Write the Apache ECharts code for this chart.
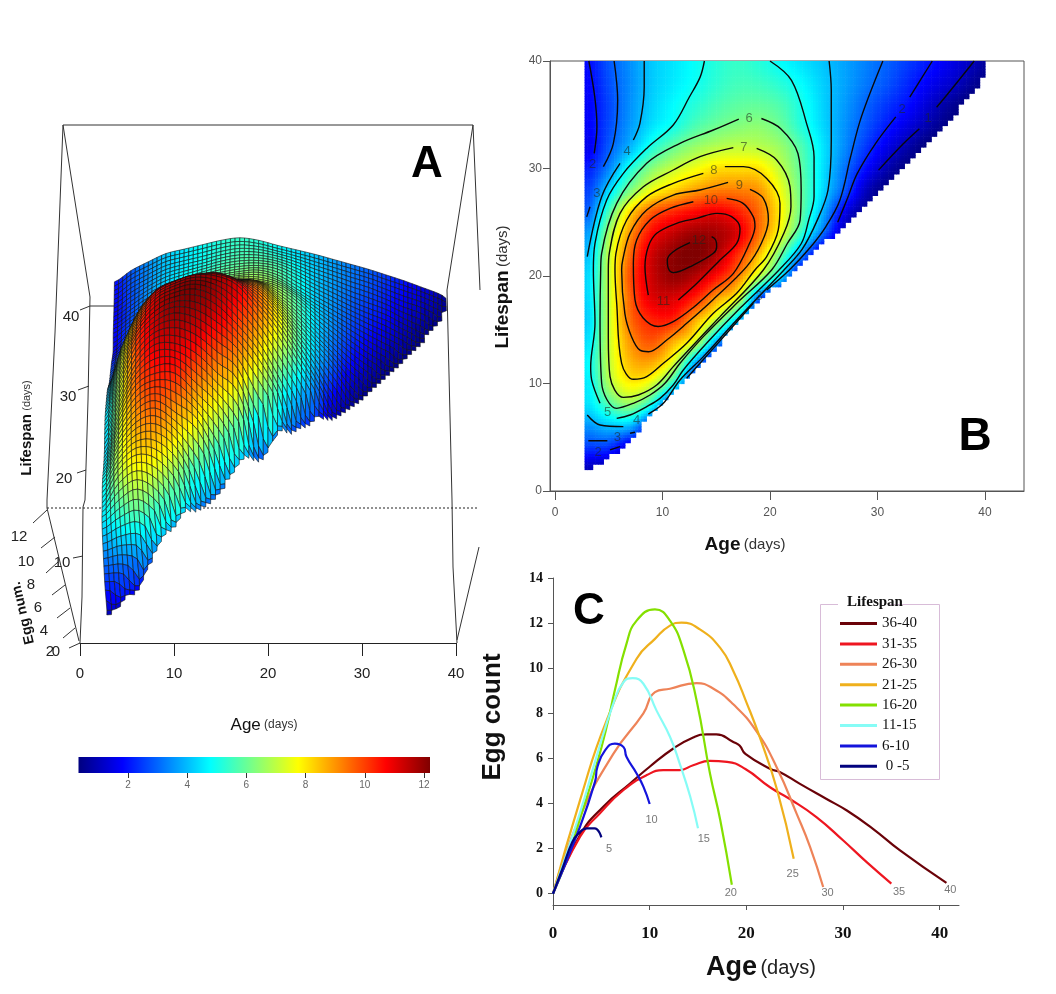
<!DOCTYPE html>
<html>
<head>
<meta charset="utf-8">
<style>html,body{margin:0;padding:0;background:#fff}#c{width:1056px;height:994px}</style>
<script src="https://cdn.jsdelivr.net/npm/echarts@6/dist/echarts.min.js"></script>
</head>
<body>
<div id="c"></div>
<script>
// ---- Panel A / B: egg count at nodes, ages 3,5,7,... per lifespan row
const nodeAges = [3,5,7,9,11,13,15,17,19,21,23,25,27,29,31,33,35,37,39,41];
const L40 = [1.9,2.8,3.5,4.15,4.5,4.85,5.2,5.4,5.2,4.8,4.45,4.1,3.7,3.3,2.9,2.45,2.0,1.5,1.0,0.4];
const L38 = [1.8,2.7,3.45,4.15,4.55,4.9,5.3,5.55,5.5,5.2,4.75,4.2,3.7,3.2,2.75,2.2,1.65,1.2,0.6,0.2];
const L36 = [1.75,2.6,3.5,4.25,4.75,5.2,5.6,5.85,5.9,5.65,5.0,4.25,3.6,2.95,2.4,1.9,1.2,0.6,0.2];
const L34 = [1.75,2.65,3.6,4.45,5.0,5.65,6.05,6.3,6.4,6.0,5.15,4.3,3.5,2.75,2.05,1.4,0.75,0.3];
const L32 = [1.6,2.85,3.95,5.15,6.0,6.55,6.9,7.05,6.95,6.55,5.65,4.45,3.4,2.4,1.5,0.75,0.2];
const L30 = [2.1,3.35,5.1,6.35,7.1,7.6,8.1,8.15,8.05,7.0,5.8,4.4,3.1,1.85,0.85,0.3];
const L28 = [2.5,4.35,6.25,7.6,8.3,8.9,9.25,9.25,8.95,7.55,5.9,4.3,2.75,1.05,0.3];
const L26 = [2.9,5.6,8.15,9.65,10.25,10.65,10.9,10.4,9.45,7.85,5.85,3.8,1.6,0.5];
const L24 = [3.6,6.6,9.0,10.65,11.4,11.85,11.75,11.1,9.4,7.5,5.25,3.0,0.9,0.2];
const L22 = [4.0,7.0,9.55,11.25,12.0,12.25,11.65,10.2,8.45,6.0,3.35,1.0];
const L20 = [4.3,7.05,9.85,11.3,11.95,11.6,10.6,9.3,7.0,4.5,1.2];
const L18 = [4.3,7.05,9.6,11.05,11.15,10.4,8.9,7.45,3.0,1.0];
const L16 = [4.2,7.05,9.45,10.35,10.35,8.8,7.1,4.3,1.5];
const L14 = [4.4,7.05,9.0,9.75,8.75,7.4,4.0,1.5];
const L12 = [4.7,7.0,8.55,8.75,7.35,4.0,1.5];
const L10 = [4.55,6.7,7.85,7.3,5.1,2.0];
const L8  = [4.4,5.6,6.35,4.9,2.0];
const L6  = [3.5,4.0,3.85,2.0];
const L4  = [2.4,2.3,1.2];
const L2  = [1.0,0.7];
const nodeLifespans = [2,4,6,8,10,12,14,16,18,20,22,24,26,28,30,32,34,36,38,40];
const rows = [L2,L4,L6,L8,L10,L12,L14,L16,L18,L20,L22,L24,L26,L28,L30,L32,L34,L36,L38,L40];
// edge of the sampled domain (age, lifespan)
const edgeAge  = [2.9,6.36,8.5,11.6,14.7,17.8,22.2,26.5,30.1,33,36.3,39.4,40.2];
const edgeLife = [1.8,4.1,6.6,10,13.1,16.5,20.56,24.4,28,31,34.2,37.6,40];

// ---- Panel B: contour segments (age, lifespan), gaps are where the labels sit
const c12 = [[14.57,23.66],[14.95,23.35],[15.04,22.73],[14.73,22.11],[12.87,21.02],[11,20.31],[10.54,20.71],[10.45,21.49],[11,22.26],[12.56,23.1]];
const c11 = [[8.68,18.23],[8.37,20.87],[8.68,22.73],[9.46,23.97],[11.32,24.9],[13.18,25.36],[15.04,25.83],[16.43,25.52],[17.21,24.43],[16.9,23.04],[15.35,21.49],[13.18,19.3],[11.47,17.77]];
const c10 = [[15.97,27.22],[17.5,26.76],[18.45,25.5],[18.6,24.6],[18.1,23.04],[16.6,20.25],[14.7,18.7],[12.9,17.1],[11,15.75],[9.6,15.3],[8.2,16.1],[7.44,17.8],[7.29,21.18],[7.6,23.35],[8.84,25.21],[10.7,26.29],[12.87,26.91]];
const c9  = [[18.14,28.06],[19.38,27.22],[19.85,25.21],[19.2,23.04],[17.83,20.87],[14.7,17.8],[12.25,15.6],[10.4,14.05],[8.7,12.96],[7.9,13.1],[7.1,14.4],[6.5,16.5],[6.2,20.56],[6.3,21.49],[6.98,23.97],[8.53,26.14],[11,27.53],[13.5,28],[16.1,28.71]];
const c8  = [[15.8,30.17],[17.52,30.17],[19.69,29.08],[20.93,26.76],[20.77,24.28],[19.69,21.8],[18.6,20.56],[16.9,18.39],[14.73,16.53],[12.25,13.74],[10.08,11.88],[8.53,10.64],[7.3,10.39],[6.2,11.88],[5.74,17.46],[5.58,20.56],[5.67,22.11],[6.67,25.21],[8.53,27.38],[11,28.62],[13.8,29.55]];
const c7  = [[18.76,31.87],[20.62,30.79],[21.86,28.31],[21.95,26.45],[21.3,24],[19.38,20.56],[15.35,16.22],[12.87,13.58],[11,11.57],[9.46,9.86],[7.75,8.93],[6.36,8.71],[5.12,10.64],[4.96,14.36],[4.96,20.56],[5.05,22.11],[6.05,25.83],[8.22,28.3],[11,29.86],[13.49,31.1],[16.59,31.94]];
const c6  = [[19.2,34.65],[21,33.7],[22.6,31.4],[22.9,28],[22.8,25.2],[21.6,23],[20.15,20.56],[16.9,17.46],[13.8,14.36],[11.63,11.88],[10.23,10.02],[8.84,8.93],[7.29,8.16],[5.74,7.69],[4.34,10.02],[4.19,15.9],[4.25,20.56],[4.34,22.11],[5.74,26.76],[8.53,30.48],[11.63,32.34],[14.73,33.58],[17.1,34.6]];
const c5a = [[13.9,40],[13.5,38.5],[12.5,36.65],[11,34.05],[8.53,31.87],[6.36,29.55],[4.81,27.07],[3.72,23.04],[3.57,20.56],[3.72,15.6],[3.32,11.57],[3.41,10.33],[4.19,8.16]];
const c5b = [[5.74,6.76],[6.98,7.07],[8.53,7.85],[9.77,8.62],[11,9.86],[11.94,11.26],[14.1,13.74],[17.2,16.99],[20.84,20.56],[22.9,23],[23.6,25.2],[24.1,27.4],[24.1,31.1],[23.4,34.2],[22,38.2],[20,40]];
const c4a = [[8.3,40],[8.3,37.6],[7.9,34.2],[7.29,32.65]];
const c4b = [[6.05,30.48],[4.34,27.38],[3,21.8]];
const c4c = [[3,7.07],[4.19,6.14],[6.36,5.99]];
const c4d = [[8.68,7.16],[10.08,8.16],[11.63,10.33],[13.8,12.5],[16.9,15.91],[21.3,20.56],[23,22.5],[24.4,25.2],[25.4,28],[25.7,32.6],[25.7,37.3],[25.5,40]];
const c3a = [[5.5,40],[5.83,36.35],[5.43,32.34],[4.5,30.17]];
const c3b = [[3.26,26.45],[2.95,25.5]];
const c3c = [[3.1,4.68],[4.87,4.68]];
const c3d = [[6.98,5.37],[7.44,5.46]];
const c3e = [[12.25,10.48],[14.73,13.27],[18.45,17.46]];
const c3f = [[19.69,18.7],[21.8,20.56],[23.7,22.6],[25.2,24.6],[26.5,27.05],[27.5,31.1],[28.5,34.8],[30.5,40]];
const c2a = [[3.15,40],[3.7,36.65],[3.9,33.9],[3.65,31.4]];
const c2b = [[5.12,3.82],[6.05,4.13]];
const c2c = [[35.1,40],[33,36.65]];
const c2d = [[31.7,34.8],[29.8,32.3],[28.1,29.5],[27.2,27.2],[26.3,25]];
const c1a = [[39,40],[36.3,36.65],[35.5,35.7]];
const c1b = [[33.9,33.7],[32.4,32.3],[30.1,29.85]];
const contourSegments = [c12,c11,c10,c9,c8,c7,c6,c5a,c5b,c4a,c4b,c4c,c4d,c3a,c3b,c3c,c3d,c3e,c3f,c2a,c2b,c2c,c2d,c1a,c1b];
const contourLabels = [[18.05,34.65,'6'],[17.58,31.94,'7'],[14.79,29.86,'8'],[17.15,28.4,'9'],[14.5,27.05,'10'],[10.1,17.6,'11'],[13.4,23.3,'12'],
  [32.3,35.5,'2'],[34.7,34.65,'1'],[3.5,30.4,'2'],[3.9,27.7,'3'],[6.7,31.6,'4'],[4.9,7.3,'5'],[7.6,6.6,'4'],[5.8,5.0,'3'],[4,3.6,'2'],[19,18.1,'3']];

// ---- Panel C: egg count by age per lifespan class
const s36_40 = [[0,0],[2.8,2.6],[5.2,3.86],[8,4.9],[10,5.63],[12.45,6.44],[14.5,6.93],[15.9,7.07],[16.9,7.07],[18.65,6.73],[19.3,6.57],[19.9,6.2],[22.5,5.53],[23.5,5.39],[25.55,4.87],[28.3,4.2],[30.4,3.69],[33.1,2.88],[35.9,1.92],[40.7,0.48]];
const s31_35 = [[0,0],[2.8,2.53],[4.86,3.57],[7.3,4.6],[9.7,5.26],[11.4,5.48],[13.1,5.48],[14.5,5.7],[16.24,5.89],[18,5.85],[19.9,5.53],[22.45,4.72],[24.5,4.2],[27.25,3.4],[30,2.37],[32.45,1.4],[35,0.45]];
const s26_30 = [[0,0],[2.8,3.42],[6.24,6.2],[9.35,8],[10.55,8.94],[12.1,9.09],[14.85,9.34],[16.6,9.09],[18.65,8.4],[21,7.23],[23.15,5.6],[25.2,3.55],[26.6,2.07],[27.95,0.3]];
const s21_25 = [[0,0],[2.8,4.15],[5.55,7.69],[8.65,10.42],[10.55,11.3],[12.1,11.89],[13.3,12.02],[15.2,11.72],[17.3,10.9],[18.65,9.88],[20,8.5],[21.4,6.93],[23.2,4.58],[24.9,1.55]];
const s16_20 = [[0,0],[1.5,1.6],[3,3.6],[4.5,5.7],[5.55,7.4],[6.4,9.02],[7.6,11.08],[8.65,12.11],[10.55,12.61],[12.1,12.11],[13.5,10.79],[14.85,8.58],[16.24,5.33],[17.3,3.27],[18.5,0.4]];
const s11_15 = [[0,0],[2.8,3.6],[4.5,6.07],[6.24,8.43],[7.3,9.39],[8.24,9.56],[9.35,9.31],[10.7,8.13],[12.1,6.96],[13.1,5.78],[14.2,4.3],[15,2.9]];
const s6_10  = [[0,0],[2.8,2.98],[4.35,4.97],[4.6,5.63],[5.4,6.37],[6.4,6.66],[7.3,6.5],[7.6,6.07],[8.65,5.33],[9.35,4.75],[10,3.98]];
const s0_5   = [[0,0],[1,1.15],[2,2.3],[2.6,2.65],[3.5,2.9],[4.3,2.9],[5,2.5]];
const classNames  = ['36-40','31-35','26-30','21-25','16-20','11-15','6-10',' 0 -5'];
const classData   = [s36_40,s31_35,s26_30,s21_25,s16_20,s11_15,s6_10,s0_5];
const classColors = ['#6a0208','#ee1620','#ee8358','#efb01c','#84e000','#86fcf6','#1414dc','#02027e'];
const endLabels = [[5.8,1.97,'5'],[10.2,3.29,'10'],[15.6,2.45,'15'],[18.4,0.02,'20'],[24.8,0.86,'25'],[28.4,0.02,'30'],[35.8,0.07,'35'],[41.1,0.15,'40']];

// ---- Colour scale
const scaleMin = 0.33, scaleMax = 12.2;
const scaleTicks = [2,4,6,8,10,12];

function clamp01(v){return Math.max(0,Math.min(1,v));}
function jet(v){
  const t = clamp01((v-scaleMin)/(scaleMax-scaleMin));
  const r = clamp01(1.5-Math.abs(4*t-3)), g = clamp01(1.5-Math.abs(4*t-2)), b = clamp01(1.5-Math.abs(4*t-1));
  return 'rgb('+Math.round(r*255)+','+Math.round(g*255)+','+Math.round(b*255)+')';
}
function nodeZ(i,j){
  i = Math.max(0,Math.min(rows.length-1,i));
  const r = rows[i];
  return r[Math.max(0,Math.min(r.length-1,j))];
}
function cr(p0,p1,p2,p3,t){
  return 0.5*(2*p1+(p2-p0)*t+(2*p0-5*p1+4*p2-p3)*t*t+(3*p1-p0-3*p2+p3)*t*t*t);
}
// shading between the read nodes of a cell (surface look only; the series data stay the read nodes)
function shade(a,L){
  const fa = Math.max(0,(a-3)/2), fl = Math.max(0,(L-2)/2);
  const j = Math.floor(fa), i = Math.floor(fl), tj = fa-j, ti = fl-i;
  const col = [];
  for(let k=-1;k<=2;k++){
    col.push(cr(nodeZ(i+k,j-1),nodeZ(i+k,j),nodeZ(i+k,j+1),nodeZ(i+k,j+2),tj));
  }
  return Math.max(0.2,cr(col[0],col[1],col[2],col[3],ti));
}
function edgeLifeAt(a){
  if(a<=edgeAge[0]) return edgeLife[0];
  for(let k=1;k<edgeAge.length;k++){
    if(a<=edgeAge[k]){
      const t=(a-edgeAge[k-1])/(edgeAge[k]-edgeAge[k-1]);
      return edgeLife[k-1]+t*(edgeLife[k]-edgeLife[k-1]);
    }
  }
  return 99;
}
function inDomain(a,L){
  const sa = Math.floor(a*2)/2+0.25, sl = Math.floor(L*2)/2+0.25;
  return a>=2.75 && sl>=edgeLifeAt(sa) && sa<=40.25 && L<=40;
}
// Panel A view: maps (age, lifespan, eggs) onto the hidden plane of its grid
function zUnit(L){ return L<24 ? 11+3*L/24 : 14-1.4*(L-24)/16; }
function project(a,L,z){
  const s = 1-0.06*L/40;
  return [20+(a-20)*s*(1+0.0117*z), 8.43*L+z*zUnit(L)];
}
// mesh height: the last row of quads lies level with the lip so the sawtooth stays shallow
function meshHeight(a,L){
  const el = edgeLifeAt(Math.min(a,40.2));
  const z = shade(a,L), e = L-el;
  if(e>=1.4) return z;
  const z0 = shade(a,Math.max(el,2));
  const w = clamp01((e-0.5)/0.9);
  return z0+(z-z0)*w*w*(3-2*w);
}

const nodeData = [];
for(let i=rows.length-1;i>=0;i--){
  rows[i].forEach(function(z,j){ nodeData.push([nodeAges[j],nodeLifespans[i],z]); });
}

function renderHeatCell(params,api){
  const a0=api.value(0), L0=api.value(1);
  if(L0>=40) return null;
  const ch=[], d=0.25;
  const aStart = a0===3?2.75:a0;
  const LStart = L0===2?1.5:L0;
  for(let a=aStart;a<a0+2-1e-6;a+=d){
    for(let L=LStart;L<L0+2-1e-6;L+=d){
      if(!inDomain(a+d/2,L+d/2)) continue;
      const p=api.coord([a,L+d]), q=api.coord([a+d,L]);
      const fill=jet(shade(a+d/2,L+d/2));
      ch.push({type:'rect',silent:true,shape:{x:p[0],y:p[1],width:q[0]-p[0]+0.6,height:q[1]-p[1]+0.6},style:{fill:fill}});
    }
  }
  return {type:'group',children:ch};
}
function renderMeshCell(params,api){
  const a0=api.value(0), L0=api.value(1);
  if(L0>=40) return null;
  const ch=[], d=0.5;
  const LStart = L0===2?1.5:L0;
  for(let L=L0+2-d;L>=LStart-1e-6;L-=d){
    for(let a=a0;a<a0+2-1e-6;a+=d){
      if(!inDomain(a+d/2,L+d/2)) continue;
      const mid=shade(a+d/2,L+d/2);
      const corners=[[a,L],[a+d,L],[a+d,L+d],[a,L+d]];
      const pts=corners.map(function(c){
        return api.coord(project(c[0],c[1],meshHeight(c[0],c[1])));
      });
      ch.push({type:'polygon',silent:true,shape:{points:pts},
        style:{fill:jet(mid),stroke:'#101010',lineWidth:0.6}});
    }
  }
  return {type:'group',children:ch};
}

const SANS='"Liberation Sans",Arial,sans-serif', SERIF='"Liberation Serif","Times New Roman",serif';
function px(points,extra){
  return Object.assign({type:'polyline',silent:true,shape:{points:points},style:{fill:null,stroke:'#333',lineWidth:1}},extra||{});
}
function txt(x,y,t,font,color,extra){
  return Object.assign({type:'text',silent:true,x:x,y:y,style:{text:t,font:font,fill:color||'#222',align:'center',verticalAlign:'middle'}},extra||{});
}
const frameLines = [
  [[63,125],[473,125]],
  [[63,125],[90,297],[88,400],[85,500],[83,507],[82,597],[80,643]],
  [[63,125],[55,333],[47,500],[47,508],[79,641]],
  [[473,125],[447,290],[452,500],[453,567],[457,643]],
  [[473,125],[480,290]],
  [[479,547],[457,640]],
  [[90,306],[115,306]],
  [[80,310],[90,306]],[[78,390],[89,386]],[[77,473],[86,470]],[[73,558],[83,556]],
  [[33,523],[47,510]],[[41,548],[55,537]],[[46,573],[58,562]],[[52,595],[65,585]],[[57,618],[70,608]],[[63,638],[75,628]],[[69,648],[80,643]]
];
const graphics = frameLines.map(function(p){return px(p);});
graphics.push(px([[47,508],[479,508]],{style:{fill:null,stroke:'#222',lineWidth:1,lineDash:[2,2]}}));
[[71,317,'40'],[68,397,'30'],[64,479,'20'],[62,563,'10'],[19,537,'12'],[26,562,'10'],[31,585,'8'],[38,608,'6'],[44,631,'4'],[50,652,'2'],[56,652,'0']]
  .forEach(function(t){graphics.push(txt(t[0],t[1],t[2],'15px '+SANS,'#222'));});
graphics.push(txt(23,613,'Egg num.','bold 14px '+SANS,'#111',{rotation:1.8}));
graphics.push({type:'text',silent:true,x:27,y:428,rotation:Math.PI/2,style:{text:'{a|Lifespan} {b|(days)}',align:'center',verticalAlign:'middle',rich:{a:{font:'bold 15px '+SANS,fill:'#111'},b:{font:'11px '+SANS,fill:'#333'}}}});
graphics.push({type:'text',silent:true,x:264,y:725,style:{text:'{a|Age} {b|(days)}',align:'center',verticalAlign:'middle',rich:{a:{font:'17px '+SANS,fill:'#111'},b:{font:'12px '+SANS,fill:'#333'}}}});
graphics.push({type:'text',silent:true,x:745,y:545,style:{text:'{a|Age} {b|(days)}',align:'center',verticalAlign:'middle',rich:{a:{font:'bold 19px '+SANS,fill:'#111'},b:{font:'15px '+SANS,fill:'#333'}}}});
graphics.push({type:'text',silent:true,x:503,y:287,rotation:Math.PI/2,style:{text:'{a|Lifespan} {b|(days)}',align:'center',verticalAlign:'middle',rich:{a:{font:'bold 19px '+SANS,fill:'#111'},b:{font:'15px '+SANS,fill:'#333'}}}});
graphics.push({type:'text',silent:true,x:761,y:968,style:{text:'{a|Age} {b|(days)}',align:'center',verticalAlign:'middle',rich:{a:{font:'bold 27px '+SANS,fill:'#111'},b:{font:'20px '+SANS,fill:'#222'}}}});
graphics.push(txt(493,717,'Egg count','bold 26px '+SANS,'#111',{rotation:Math.PI/2}));
graphics.push(txt(427,165,'A','bold 44px '+SANS,'#000'));
graphics.push(txt(975,437,'B','bold 46px '+SANS,'#000'));
graphics.push(txt(589,612,'C','bold 44px '+SANS,'#000'));
graphics.push({type:'rect',silent:true,shape:{x:820.5,y:604.5,width:119,height:175},style:{fill:'#fff',stroke:'#d8bcd8',lineWidth:1}});
graphics.push({type:'rect',silent:true,shape:{x:838,y:596,width:52,height:16},style:{fill:'#fff'}});
graphics.push(txt(875,602,'Lifespan','bold 15px '+SERIF,'#111'));

const series = [];
// A: surface
series.push({type:'custom',xAxisIndex:0,yAxisIndex:0,data:nodeData,renderItem:renderMeshCell,clip:false,silent:true,z:3,encode:{x:0,y:1}});
// colour bar
series.push({type:'custom',xAxisIndex:1,yAxisIndex:1,data:[[scaleMin,scaleMax]],silent:true,encode:{x:[0,1]},
  renderItem:function(params,api){
    const p=api.coord([api.value(0),1]), q=api.coord([api.value(1),0]);
    const stops=[];
    for(let k=0;k<=48;k++){ stops.push({offset:k/48,color:jet(scaleMin+(scaleMax-scaleMin)*k/48)}); }
    return {type:'rect',silent:true,shape:{x:p[0],y:p[1],width:q[0]-p[0],height:q[1]-p[1]},
      style:{fill:new echarts.graphic.LinearGradient(0,0,1,0,stops)}};
  }});
// B: field
series.push({type:'custom',xAxisIndex:2,yAxisIndex:2,data:nodeData,renderItem:renderHeatCell,silent:true,z:2,clip:false,encode:{x:0,y:1}});
contourSegments.forEach(function(seg){
  series.push({type:'line',xAxisIndex:2,yAxisIndex:2,data:seg,showSymbol:false,smooth:0.35,silent:true,z:4,lineStyle:{color:'#0a0a0a',width:1.4}});
});
series.push({type:'scatter',xAxisIndex:2,yAxisIndex:2,data:contourLabels,symbolSize:0,silent:true,z:5,
  label:{show:true,position:'inside',formatter:function(p){return p.data[2];},fontFamily:SANS,fontSize:13,color:'rgba(30,40,30,0.72)'}});
// C: lines
classNames.forEach(function(n,i){
  series.push({type:'line',name:n,xAxisIndex:3,yAxisIndex:3,data:classData[i],showSymbol:false,smooth:0.5,silent:true,color:classColors[i],z:3+(i>=5?1:0),lineStyle:{color:classColors[i],width:2.2}});
});
series.push({type:'scatter',xAxisIndex:3,yAxisIndex:3,data:endLabels,symbolSize:0,silent:true,z:6,
  label:{show:true,position:'inside',formatter:function(p){return p.data[2];},fontFamily:SANS,fontSize:11,color:'#555'}});

const option = {
  animation:false,
  backgroundColor:'#fff',
  graphic:{elements:graphics},
  legend:{data:classNames,orient:'vertical',left:840,top:616,padding:0,itemWidth:37,itemHeight:3,itemGap:5.4,icon:'rect',selectedMode:false,
    textStyle:{fontFamily:SERIF,fontSize:15,color:'#111',lineHeight:15}},
  grid:[
    {left:80,width:376,top:125,height:518},
    {left:78.5,width:351.5,top:757,height:16},
    {left:550,width:474,top:61,height:430,show:true,borderColor:'#555',borderWidth:1},
    {left:553,width:406,top:578,height:327}
  ],
  xAxis:[
    {gridIndex:0,type:'value',min:0,max:40,interval:10,splitLine:{show:false},axisLine:{onZero:false,lineStyle:{color:'#222'}},axisTick:{length:13,lineStyle:{color:'#222'}},axisLabel:{fontFamily:SANS,fontSize:15,color:'#222',margin:23}},
    {gridIndex:1,type:'value',min:scaleMin,max:scaleMax,splitLine:{show:false},axisLine:{show:false,onZero:false},axisTick:{customValues:scaleTicks,length:5,lineStyle:{color:'#333'}},axisLabel:{customValues:scaleTicks,fontFamily:SANS,fontSize:10,color:'#666',margin:7}},
    {gridIndex:2,type:'value',min:-0.465,max:43.63,splitLine:{show:false},axisLine:{onZero:false,lineStyle:{color:'#555'}},axisTick:{customValues:[0,10,20,30,40],length:9,lineStyle:{color:'#555'}},axisLabel:{customValues:[0,10,20,30,40],fontFamily:SANS,fontSize:12,color:'#555',margin:16}},
    {gridIndex:3,type:'value',min:0,max:42,splitLine:{show:false},axisLine:{onZero:false,lineStyle:{color:'#555'}},axisTick:{customValues:[0,10,20,30,40],length:5,lineStyle:{color:'#555'}},axisLabel:{customValues:[0,10,20,30,40],fontFamily:SERIF,fontWeight:'bold',fontSize:17,color:'#111',margin:20}}
  ],
  yAxis:[
    {gridIndex:0,type:'value',min:0,max:518,show:false},
    {gridIndex:1,type:'value',min:0,max:1,show:false},
    {gridIndex:2,type:'value',min:0,max:40,interval:10,splitLine:{show:false},axisLine:{onZero:false,lineStyle:{color:'#555'}},axisTick:{length:7,lineStyle:{color:'#555'}},axisLabel:{fontFamily:SANS,fontSize:12,color:'#555',margin:8}},
    {gridIndex:3,type:'value',min:-0.5,max:14,splitLine:{show:false},axisLine:{onZero:false,lineStyle:{color:'#555'}},axisTick:{customValues:[0,2,4,6,8,10,12,14],length:5,lineStyle:{color:'#555'}},axisLabel:{customValues:[0,2,4,6,8,10,12,14],fontFamily:SERIF,fontWeight:'bold',fontSize:14,color:'#111',margin:10}}
  ],
  series:series
};
echarts.init(document.getElementById('c'),null,{renderer:'canvas'}).setOption(option);
</script>
</body>
</html>
